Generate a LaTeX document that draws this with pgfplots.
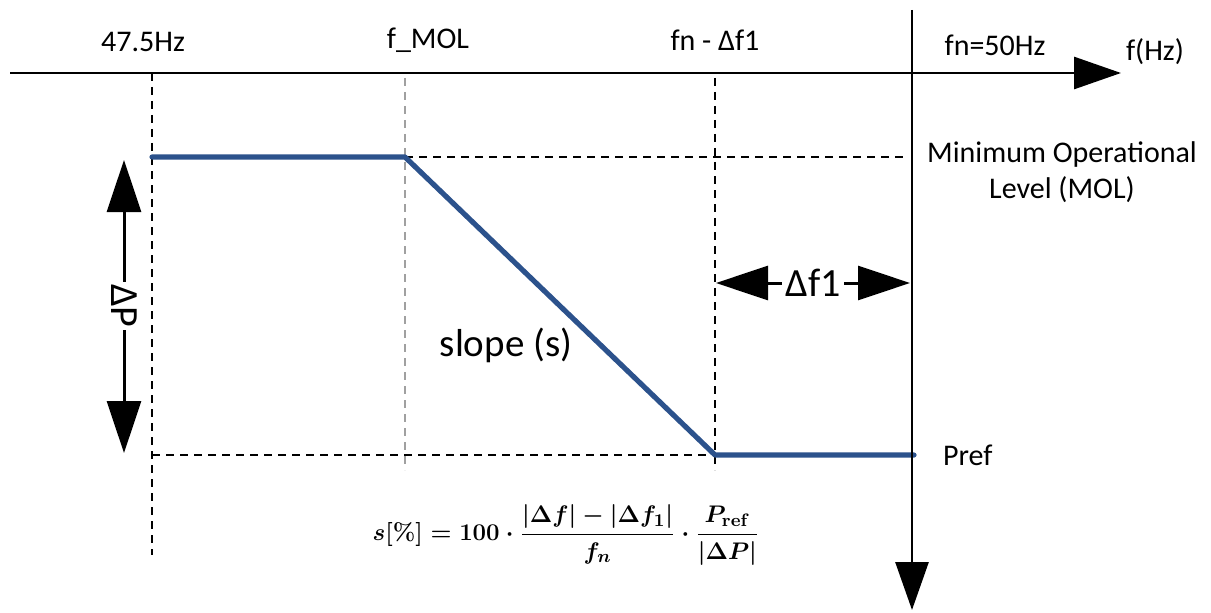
\documentclass[border=0pt]{standalone}
\usepackage{amsmath}
\usepackage{pgfplots}
\pgfplotsset{compat=1.18}
\usepackage[no-math]{fontspec}
\setmainfont{Carlito}
\usetikzlibrary{arrows.meta}
\definecolor{droop}{RGB}{44,82,140}
\definecolor{guidegray}{RGB}{160,160,160}
\newsavebox{\formulabox}
\tikzset{lbl/.style={font=\fontsize{15}{18}\selectfont},
  bigtxt/.style={font=\fontsize{20}{24}\selectfont},
  dimarrow/.style={line width=1.5pt,{Triangle[length=26pt,width=17pt]}-{Triangle[length=26pt,width=17pt]}}}

\begin{document}
\sbox{\formulabox}{\fontsize{13}{16}\selectfont
  $\displaystyle \boldsymbol{s[\%]=100\cdot
  \frac{\lvert\Delta f\rvert-\lvert\Delta f_{1}\rvert}{f_{n}}\cdot
  \frac{P_{\mathrm{ref}}}{\lvert\Delta P\rvert}}$}%
\begin{tikzpicture}
\begin{axis}[scale only axis,width=605.5pt,height=306pt,at={(0,0)},anchor=south west,
  xmin=0,xmax=1211,ymin=0,ymax=612,hide axis,clip=false]
% dashed guides
\addplot[black,line width=0.75pt,dash pattern=on 4pt off 3pt] coordinates {(152,539)(152,57)};
\addplot[guidegray,line width=0.75pt,dash pattern=on 4pt off 3pt] coordinates {(405,534)(405,142)};
\addplot[black,line width=0.75pt,dash pattern=on 4pt off 3pt] coordinates {(715,534)(715,142)};
\addplot[black,line width=0.75pt,dash pattern=on 4pt off 3pt] coordinates {(405,455)(905,455)};
\addplot[black,line width=0.75pt,dash pattern=on 4pt off 3pt] coordinates {(152,157)(715,157)};
% droop characteristic
\addplot[droop,line width=2.6pt,line cap=round,line join=round] coordinates {(152,455)(405,455)(715,157)(914,157)};
\end{axis}
\begin{scope}[x=0.5pt,y=0.5pt]
\path (0,0) rectangle (1211,612);
% axes
\draw[line width=1.4pt,-{Triangle[length=23.5pt,width=16pt]}] (10,539) -- (1121,539);
\draw[line width=1.4pt,-{Triangle[length=24pt,width=16.5pt]}] (912,602) -- (912,2);
% dimension arrows
\draw[dimarrow] (124,452) -- (124,159);
\node[fill=white,inner sep=1pt,rotate=-90,bigtxt] at (124,306) {ΔP};
\draw[dimarrow] (716,329) -- (910,329);
\node[fill=white,inner sep=1.5pt,bigtxt] at (813,329) {Δf1};
% labels
\node[lbl] at (143,570) {47.5Hz};
\node[lbl] at (428,572) {f\_MOL};
\node[lbl] at (715,572) {fn - Δf1};
\node[lbl] at (995,567) {fn=50Hz};
\node[lbl] at (1155,560) {f(Hz)};
\node[lbl,align=center] at (1062,440) {Minimum Operational\\Level (MOL)};
\node[lbl,anchor=west] at (936,157) {Pref};
\node[font=\fontsize{19.5}{24}\selectfont] at (506,267) {slope (s)};
\node at (566,77) {\usebox{\formulabox}};
\end{scope}
\end{tikzpicture}
\end{document}
